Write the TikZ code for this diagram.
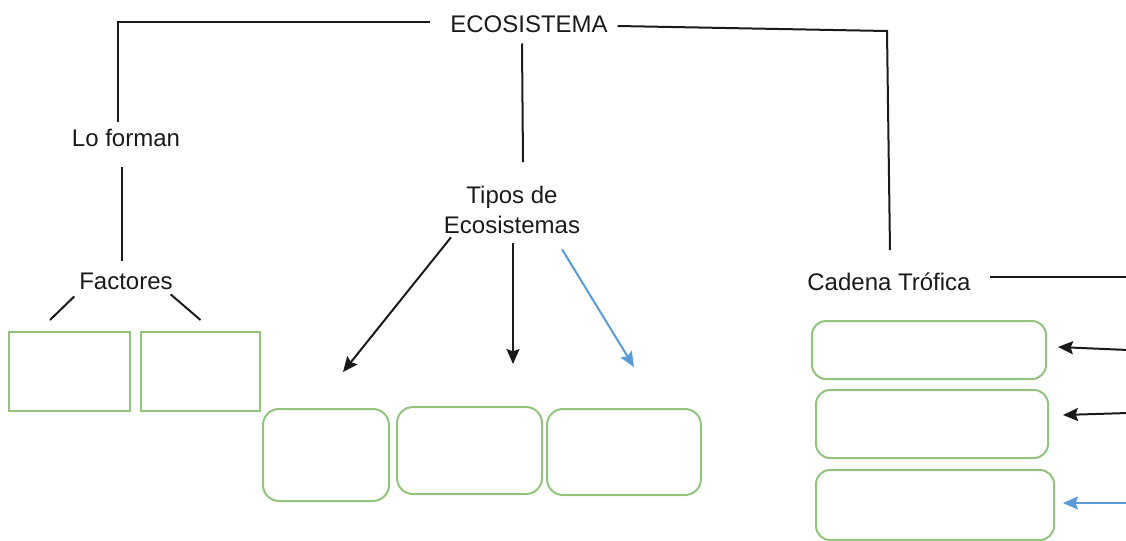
\documentclass[tikz,border=0pt]{standalone}
\usepackage{fontspec}
\setmainfont{Liberation Sans}
\usetikzlibrary{arrows.meta}
\definecolor{boxgreen}{HTML}{93C47D}
\definecolor{arrblue}{HTML}{5B9BD5}
\definecolor{linegray}{HTML}{1A1A1A}
\begin{document}
\begin{tikzpicture}[x=0.5pt,y=-0.5pt,
  lbl/.style={inner sep=0pt,outer sep=0pt,text=linegray,font=\fontsize{12}{15}\selectfont},
  sqbox/.style={draw=boxgreen,line width=1pt,inner sep=0pt,outer sep=0pt},
  rbox/.style={draw=boxgreen,line width=1pt,inner sep=0pt,outer sep=0pt,rounded corners=8pt},
  conn/.style={draw=linegray,line width=1pt},
  arr/.style={conn,-{Stealth[length=7.5pt,width=6.5pt,inset=1.2pt]}},
  barr/.style={draw=arrblue,line width=1pt,-{Stealth[length=7.5pt,width=6.5pt,inset=1.2pt]}}]
\useasboundingbox (0,0) rectangle (1126,541);

% text nodes
\node[lbl] (eco) at (529,24) {ECOSISTEMA};
\node[lbl] (lof) at (126,138) {Lo forman};
\node[lbl] (fac) at (126,281) {Factores};
\node[lbl,align=center] (tip) at (512,210) {Tipos de\\Ecosistemas};
\node[lbl] (cad) at (889,282) {Cadena Trófica};

% boxes
\node[sqbox,minimum width=60.5pt,minimum height=39.5pt] (f1) at (69.5,371.5) {};
\node[sqbox,minimum width=59.5pt,minimum height=39.5pt] (f2) at (200.5,371.5) {};
\node[rbox,minimum width=63pt,minimum height=46pt] (t1) at (326,455) {};
\node[rbox,minimum width=72.5pt,minimum height=43.5pt] (t2) at (469.5,450.5) {};
\node[rbox,minimum width=77pt,minimum height=43pt] (t3) at (624,452) {};
\node[rbox,rounded corners=7pt,minimum width=117pt,minimum height=29pt] (c1) at (929,350) {};
\node[rbox,rounded corners=7pt,minimum width=116pt,minimum height=34pt] (c2) at (932,424) {};
\node[rbox,rounded corners=7pt,minimum width=119pt,minimum height=35pt] (c3) at (935,505) {};

% free ends / corners
\coordinate (cr) at (887,31);
\coordinate (redge) at (1128,277);
\coordinate (a1) at (1128,350);
\coordinate (a2) at (1128,413);
\coordinate (a3) at (1128,503);

% connectors
\draw[conn] ([shift={(-20,-2)}]eco.west) -| ([shift={(-8,-7)}]lof.north);
\draw[conn] ([shift={(-4,20)}]lof.south) -- ([shift={(-4,-12)}]fac.north);
\draw[conn] ([shift={(-5,7)}]fac.south west) -- ([shift={(-19.5,-12)}]f1.north);
\draw[conn] ([shift={(-2,5)}]fac.south east) -- ([shift={(0,-12)}]f2.north);
\draw[conn] ([shift={(-7,11)}]eco.south) -- ([shift={(11,-24)}]tip.north);
\draw[arr] ([shift={(-61,3.5)}]tip.south) -- ([shift={(17,-37)}]t1.north);
\draw[arr] ([shift={(1,9.5)}]tip.south) -- ([shift={(43.5,-43)}]t2.north);
\draw[barr] ([shift={(50,15.5)}]tip.south) -- ([shift={(10,-42)}]t3.north);
\draw[conn] ([shift={(10,2)}]eco.east) -- (cr) -- ([shift={(1,-23)}]cad.north);
\draw[conn] ([shift={(19,-5)}]cad.east) -- (redge);
\draw[arr] (a1) -- ([shift={(12,-3)}]c1.east);
\draw[arr] (a2) -- ([shift={(15,-9)}]c2.east);
\draw[barr] (a3) -- ([shift={(9,-2)}]c3.east);
\end{tikzpicture}
\end{document}
